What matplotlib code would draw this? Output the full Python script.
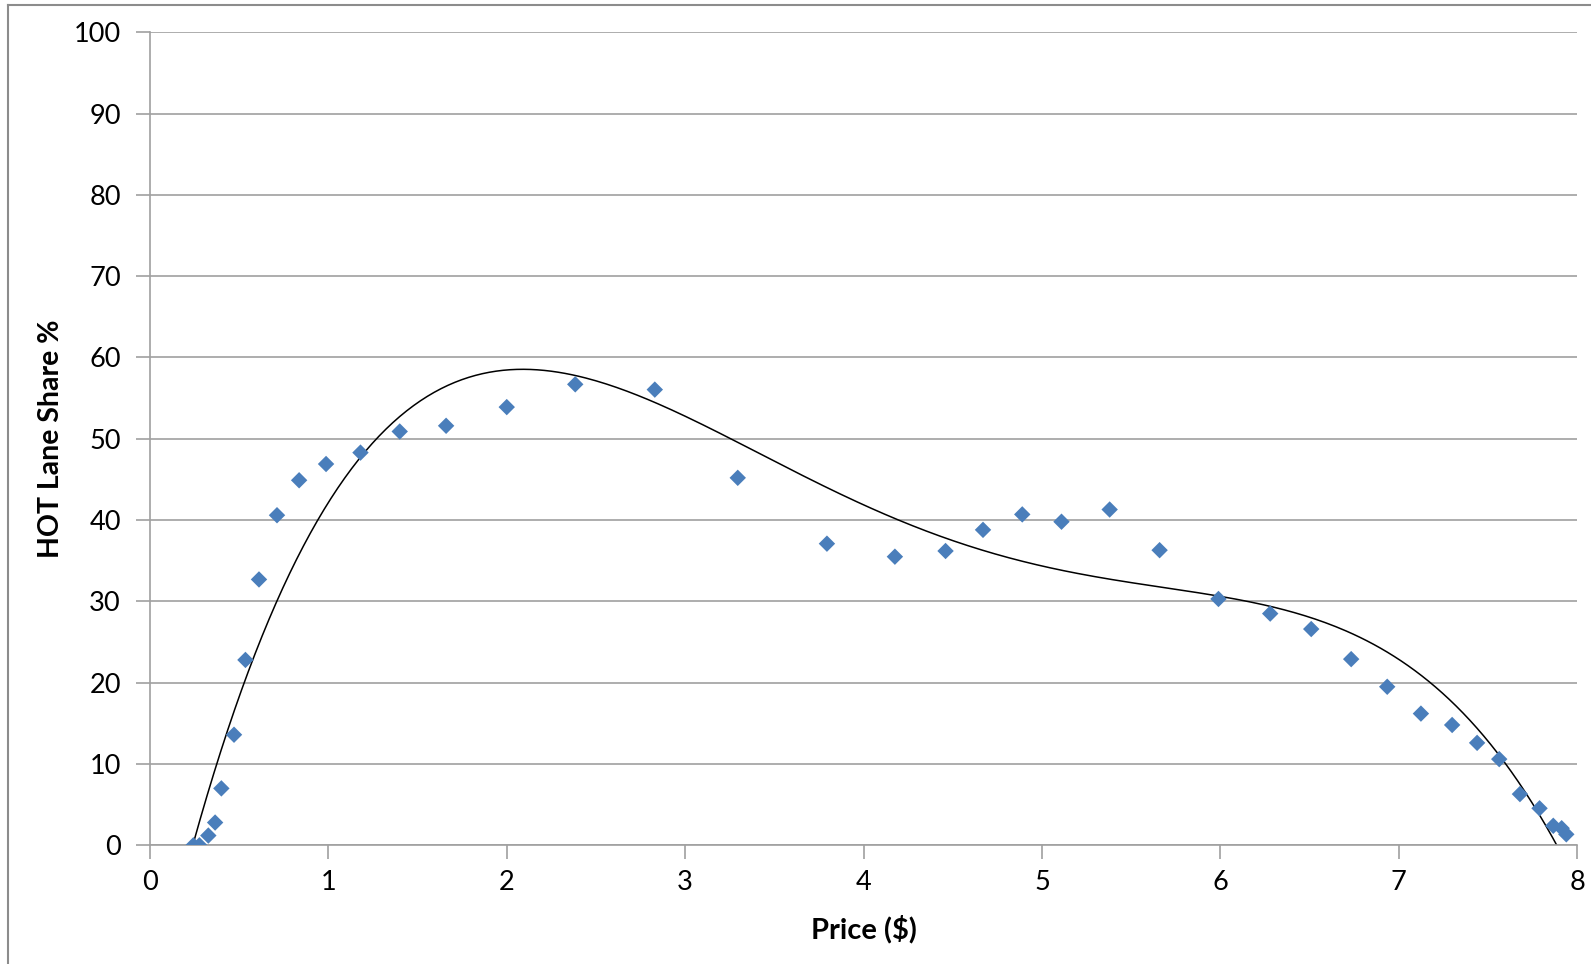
import numpy as np
import matplotlib
matplotlib.use("Agg")
import matplotlib.pyplot as plt
from matplotlib.lines import Line2D

price = [0.243, 0.277, 0.327, 0.365, 0.40, 0.471, 0.535, 0.611, 0.712, 0.836,
         0.987, 1.18, 1.40, 1.66, 2.00, 2.384, 2.83, 3.295, 3.795, 4.176,
         4.46, 4.67, 4.89, 5.11, 5.38, 5.66, 5.99, 6.28, 6.51, 6.734,
         6.936, 7.125, 7.30, 7.44, 7.564, 7.68, 7.79, 7.867, 7.914, 7.94]
share = [0.0, 0.0, 1.2, 2.8, 7.0, 13.6, 22.8, 32.7, 40.6, 44.9,
         46.9, 48.3, 50.9, 51.6, 53.9, 56.7, 56.05, 45.2, 37.1, 35.5,
         36.2, 38.8, 40.7, 39.8, 41.3, 36.3, 30.3, 28.5, 26.6, 22.9,
         19.5, 16.2, 14.8, 12.6, 10.6, 6.3, 4.55, 2.4, 2.1, 1.35]
trend_degree = 4
x_ticks = list(range(0, 9))
y_ticks = list(range(0, 101, 10))

plt.rcParams['font.family'] = ['Lato', 'DejaVu Sans']

fig = plt.figure(figsize=(15.91, 9.64), dpi=100)
ax = fig.add_axes([150/1591, 1-845.3/964, (1577-150)/1591, (845.3-32.3)/964])

# polynomial trendline fitted to the data
coef = np.polyfit(price, share, trend_degree)
xs = np.linspace(min(price), max(price), 400)
ys = np.polyval(coef, xs)
ax.plot(xs, ys, color='black', lw=1.1, zorder=2, clip_on=True)

ax.scatter(price, share, marker='D', s=70, color='#4a7ebb', edgecolors='none', zorder=3)

ax.set_xlim(0, 8)
ax.set_ylim(0, 100)
ax.set_xticks(x_ticks)
ax.set_yticks(y_ticks)
ax.yaxis.grid(True, color='#a0a0a0', lw=1.2)
ax.set_axisbelow(True)
for s in ['top', 'right']:
    ax.spines[s].set_visible(False)
for s in ['left', 'bottom']:
    ax.spines[s].set_color('#a0a0a0')
    ax.spines[s].set_linewidth(1.2)
ax.tick_params(axis='both', colors='#a0a0a0', labelcolor='black', length=10, width=1.2,
               labelsize=19.5)
ax.tick_params(axis='x', pad=8)
ax.tick_params(axis='y', pad=11)
ax.set_xlabel('Price ($)', fontsize=21, fontweight='bold', labelpad=14)
ax.set_ylabel('HOT Lane Share %', fontsize=20.5, fontweight='bold', labelpad=7)

# outer chart border
fig.add_artist(Line2D([8/1591, 8/1591], [0, 1-5/964], transform=fig.transFigure, color='#8c8c8c', lw=1.5))
fig.add_artist(Line2D([8/1591, 1], [1-5/964, 1-5/964], transform=fig.transFigure, color='#8c8c8c', lw=1.5))

fig.savefig('out.png', dpi=100)
